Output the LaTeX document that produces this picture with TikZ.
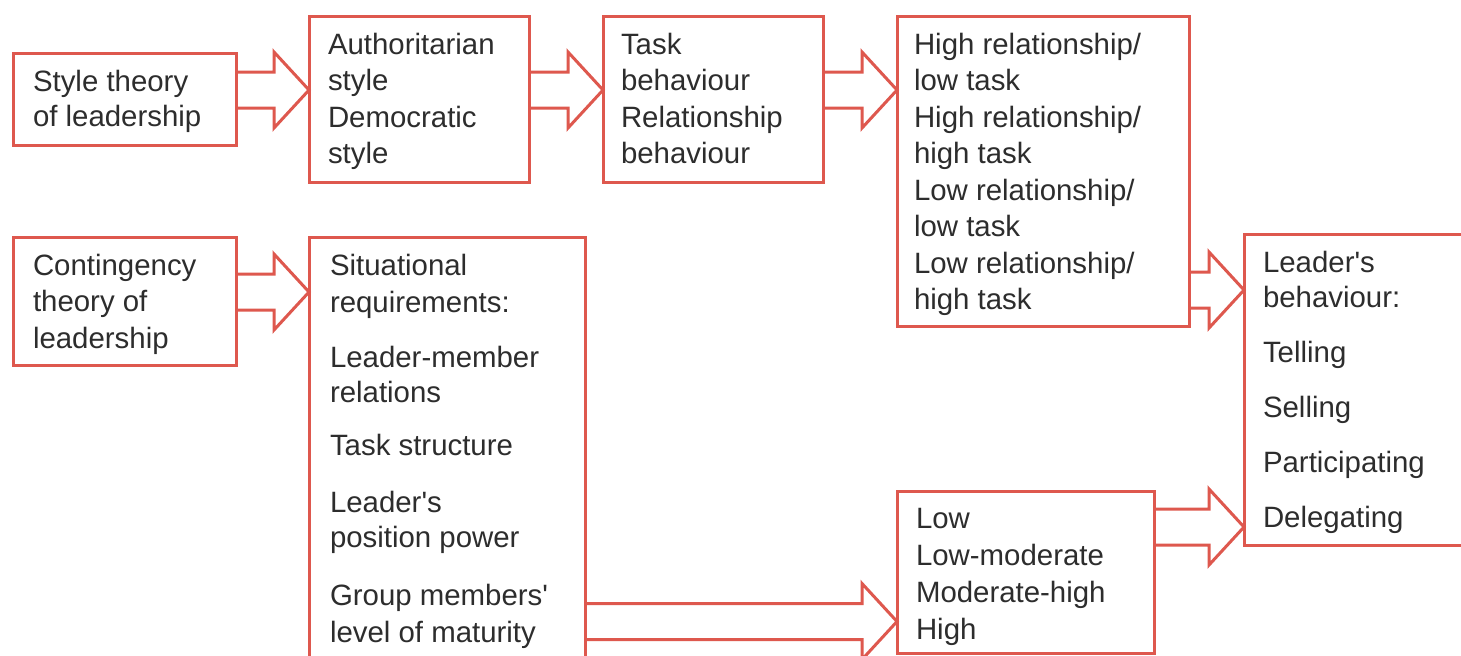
\documentclass[tikz,border=0pt]{standalone}
\usepackage{fontspec}
\newfontfamily\diagfont{Liberation Sans}
\usetikzlibrary{calc}
\definecolor{boxred}{RGB}{222,88,78}
\definecolor{textgray}{RGB}{45,45,45}

% box: outline rectangle of given width and height (in px units)
\newcommand\flowbox[5]{%
  \node[box, minimum width=#4*0.5pt, minimum height=#5*0.5pt] (#1) at (#2,#3) {};}
% one line of text, placed on its baseline
\newcommand\boxline[4]{\node[txt] (#1) at (#2,#3) {#4};}
% open block arrow from the east side of #1 to the west side of #2 at height #3
\newcommand\blockarrow[3]{%
  \draw[arrowline] let \p1=(#1.east), \p2=(#2.west), \p3=(0,#3) in
    (\x1,\y3+9pt) -- (\x2-17.5pt,\y3+9pt) -- (\x2-17.5pt,\y3+19pt) --
    (\x2,\y3) -- (\x2-17.5pt,\y3-19pt) -- (\x2-17.5pt,\y3-9pt) -- (\x1,\y3-9pt);}

\begin{document}
\begin{tikzpicture}[x=0.5pt,y=-0.5pt,
  box/.style={draw=boxred, line width=1.5pt, inner sep=0pt, outer sep=0pt, rectangle},
  arrowline/.style={draw=boxred, line width=1.5pt, line join=miter},
  txt/.style={anchor=base west, inner sep=0pt, outer sep=0pt, text=textgray,
    font=\diagfont\fontsize{14.7}{17}\selectfont}]
\useasboundingbox (0,0) rectangle (1461,655);
\fill[white] (0,0) rectangle (1461,655);
\clip (0,0) rectangle (1461,655);

% boxes
\flowbox{b1}{124.5}{99}{223}{92}
\flowbox{b2}{419}{99}{220}{166}
\flowbox{b3}{713}{99}{220}{166}
\flowbox{b4}{1043}{171}{292}{310}
\flowbox{b5}{124.5}{301}{223}{128}
\flowbox{b6}{447}{468.5}{276}{463}
\flowbox{b7}{1025.5}{572}{257}{162}
\flowbox{b8}{1372}{389.5}{256}{311}

% connectors
\blockarrow{b1}{b2}{90}
\blockarrow{b2}{b3}{90}
\blockarrow{b3}{b4}{90}
\blockarrow{b5}{b6}{292}
\blockarrow{b4}{b8}{290}
\blockarrow{b7}{b8}{527}
\blockarrow{b6}{b7}{621.5}

% texts
\boxline{s1}{33}{91}{Style theory}
\boxline{s2}{33}{126}{of leadership}

\boxline{a1}{328}{54}{Authoritarian}
\boxline{a2}{328}{90}{style}
\boxline{a3}{328}{127}{Democratic}
\boxline{a4}{328}{163}{style}

\boxline{k1}{621}{54}{Task}
\boxline{k2}{621}{90}{behaviour}
\boxline{k3}{621}{127}{Relationship}
\boxline{k4}{621}{163}{behaviour}

\boxline{h1}{914}{54}{High relationship/}
\boxline{h2}{914}{90.5}{low task}
\boxline{h3}{914}{127}{High relationship/}
\boxline{h4}{914}{163.5}{high task}
\boxline{h5}{914}{200}{Low relationship/}
\boxline{h6}{914}{236.5}{low task}
\boxline{h7}{914}{273}{Low relationship/}
\boxline{h8}{914}{309.5}{high task}

\boxline{c1}{33}{275}{Contingency}
\boxline{c2}{33}{311}{theory of}
\boxline{c3}{33}{348}{leadership}

\boxline{r1}{330}{275}{Situational}
\boxline{r2}{330}{312}{requirements:}
\boxline{r3}{330}{367}{Leader-member}
\boxline{r4}{330}{402}{relations}
\boxline{r5}{330}{455}{Task structure}
\boxline{r6}{330}{512}{Leader's}
\boxline{r7}{330}{547}{position power}
\boxline{r8}{330}{605}{Group members'}
\boxline{r9}{330}{642}{level of maturity}

\boxline{m1}{916}{528}{Low}
\boxline{m2}{916}{565}{Low-moderate}
\boxline{m3}{916}{602}{Moderate-high}
\boxline{m4}{916}{639}{High}

\boxline{l1}{1263}{272}{Leader's}
\boxline{l2}{1263}{307}{behaviour:}
\boxline{l3}{1263}{362}{Telling}
\boxline{l4}{1263}{417}{Selling}
\boxline{l5}{1263}{472}{Participating}
\boxline{l6}{1263}{527}{Delegating}
\end{tikzpicture}
\end{document}
